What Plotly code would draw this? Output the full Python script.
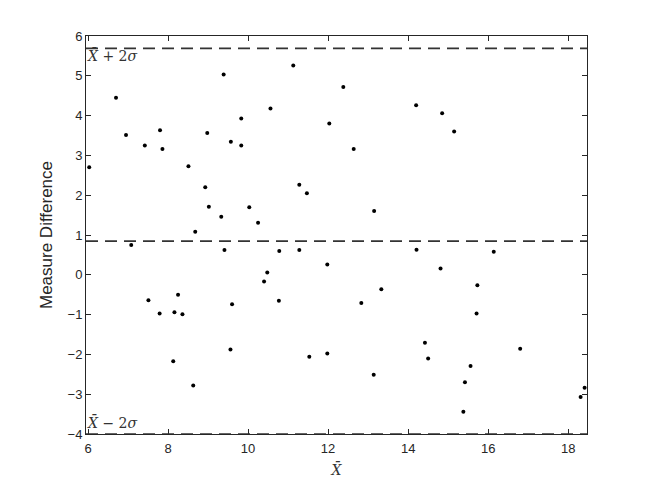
import plotly.graph_objects as go

x_mean = [6.03, 6.70, 6.95, 7.08, 7.42, 7.51, 7.80, 7.86, 7.79, 8.16, 8.25, 8.36, 8.13, 8.51,
          8.63, 8.68, 8.93, 8.98, 9.02, 9.33, 9.39, 9.41, 9.57, 9.60, 9.56, 9.83, 9.83, 10.03,
          10.25, 10.40, 10.48, 10.56, 10.78, 10.77, 11.13, 11.28, 11.28, 11.47, 11.53, 11.98,
          11.98, 12.03, 12.38, 12.64, 12.83, 13.15, 13.14, 13.33, 14.20, 14.21, 14.42, 14.50,
          14.81, 14.85, 15.15, 15.38, 15.42, 15.56, 15.73, 15.71, 16.14, 16.80, 18.31, 18.41]
diff = [2.70, 4.45, 3.51, 0.75, 3.25, -0.64, 3.63, 3.16, -0.97, -0.94, -0.50, -0.99, -2.17, 2.73,
        -2.78, 1.08, 2.20, 3.56, 1.71, 1.46, 5.03, 0.62, 3.34, -0.74, -1.88, 3.93, 3.25, 1.70,
        1.31, -0.17, 0.06, 4.18, 0.60, -0.65, 5.26, 2.26, 0.62, 2.05, -2.06, -1.98,
        0.26, 3.80, 4.72, 3.16, -0.71, 1.60, -2.51, -0.36, 4.26, 0.63, -1.71, -2.10,
        0.16, 4.06, 3.60, -3.44, -2.70, -2.29, -0.26, -0.97, 0.58, -1.86, -3.07, -2.84]

mean_line = 0.845
upper_line = 5.69
lower_line = -4.0
x_range = [5.95, 18.47]
y_range = [-4, 6]
x_ticks = [6, 8, 10, 12, 14, 16, 18]
y_ticks = [-4, -3, -2, -1, 0, 1, 2, 3, 4, 5, 6]

fig = go.Figure()
fig.add_trace(go.Scatter(x=x_mean, y=diff, mode="markers",
                         marker=dict(color="black", size=4), showlegend=False))

for yv in [upper_line, mean_line, lower_line]:
    fig.add_shape(type="line", xref="x", yref="y", x0=x_range[0], x1=x_range[1], y0=yv, y1=yv,
                  line=dict(color="#333333", width=1.6, dash="12px,7px"))

serif = dict(family="DejaVu Serif", size=14, color="#333333")
fig.add_annotation(x=x_range[0], y=upper_line, xref="x", yref="y", xanchor="left", yanchor="top",
                   text="<i>X̄</i> + 2<i>σ</i>", showarrow=False, font=serif, xshift=-1, yshift=3)
fig.add_annotation(x=x_range[0], y=lower_line, xref="x", yref="y", xanchor="left", yanchor="bottom",
                   text="<i>X̄</i> − 2<i>σ</i>", showarrow=False, font=serif, xshift=-1, yshift=1)

axis_common = dict(showline=True, linecolor="#262626", linewidth=1, mirror="ticks",
                   ticks="inside", ticklen=5, tickcolor="#262626", showgrid=False, zeroline=False,
                   automargin=False,
                   tickfont=dict(family="Liberation Sans", size=13, color="#262626"))
fig.update_xaxes(range=x_range, tickvals=x_ticks, ticklabelstandoff=2, **axis_common,
                 title=dict(text="<i>X̄</i>", font=dict(family="DejaVu Serif", size=14, color="#333333"),
                            standoff=10))
fig.update_yaxes(range=y_range, tickvals=y_ticks, **axis_common,
                 title=dict(text="Measure Difference",
                            font=dict(family="Liberation Sans", size=17, color="#262626"), standoff=10))

# the page body adds an 8px offset, so margins are shifted to place the plot area as in the reference
fig.update_layout(width=650, height=488, margin=dict(l=78, r=71, t=28, b=62),
                  plot_bgcolor="white", paper_bgcolor="white")
fig.write_html("out.html")
